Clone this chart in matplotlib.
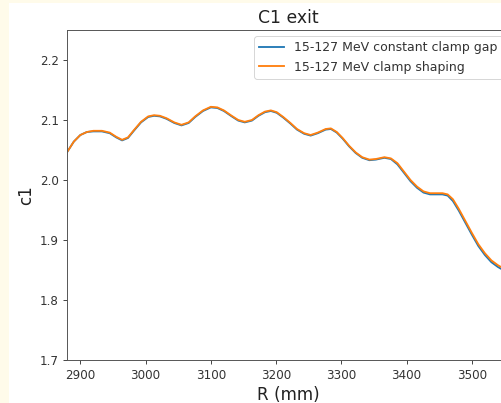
import matplotlib
matplotlib.use("Agg")
import matplotlib.pyplot as plt
from matplotlib.patches import Rectangle

# ---- data ----
r_mm = [2880, 2890, 2900, 2910, 2920, 2933, 2945, 2955, 2964, 2973,
        2982, 2993, 3004, 3013, 3022, 3032, 3044, 3055, 3066, 3076,
        3088, 3100, 3110, 3120, 3132, 3142, 3152, 3163, 3173, 3183,
        3192, 3201, 3211, 3222, 3232, 3243, 3253, 3264, 3276, 3284,
        3293, 3302, 3312, 3322, 3332, 3343, 3353, 3366, 3376, 3386,
        3396, 3406, 3416, 3426, 3436, 3446, 3455, 3463, 3471, 3480,
        3490, 3500, 3510, 3520, 3530, 3540, 3548, 3557]

c1_shaping = [2.047, 2.064, 2.075, 2.080, 2.082, 2.082, 2.079, 2.072, 2.067, 2.071,
              2.083, 2.097, 2.106, 2.108, 2.107, 2.103, 2.096, 2.092, 2.096, 2.106,
              2.116, 2.122, 2.121, 2.116, 2.107, 2.100, 2.097, 2.100, 2.108, 2.114,
              2.116, 2.113, 2.105, 2.095, 2.085, 2.078, 2.075, 2.079, 2.085, 2.086,
              2.080, 2.070, 2.057, 2.046, 2.038, 2.034, 2.035, 2.038, 2.036, 2.028,
              2.014, 2.000, 1.989, 1.981, 1.978, 1.978, 1.978, 1.976, 1.968, 1.952,
              1.932, 1.912, 1.893, 1.878, 1.866, 1.858, 1.853, 1.849]

c1_constant = [2.047, 2.064, 2.075, 2.080, 2.081, 2.081, 2.078, 2.071, 2.066, 2.070,
               2.082, 2.096, 2.105, 2.107, 2.106, 2.102, 2.095, 2.091, 2.095, 2.105,
               2.115, 2.121, 2.120, 2.115, 2.106, 2.099, 2.096, 2.099, 2.107, 2.113,
               2.115, 2.112, 2.104, 2.094, 2.084, 2.077, 2.074, 2.078, 2.084, 2.085,
               2.079, 2.069, 2.056, 2.045, 2.037, 2.033, 2.034, 2.037, 2.035, 2.026,
               2.012, 1.998, 1.987, 1.979, 1.976, 1.976, 1.976, 1.974, 1.965, 1.949,
               1.929, 1.909, 1.890, 1.875, 1.863, 1.855, 1.850, 1.846]

x_ticks = [2900, 3000, 3100, 3200, 3300, 3400, 3500]
y_ticks = [1.7, 1.8, 1.9, 2.0, 2.1, 2.2]
series_labels = ["15-127 MeV constant clamp gap", "15-127 MeV clamp shaping"]

W, H = 501, 403
fig = plt.figure(figsize=(W / 100, H / 100), dpi=100, facecolor="#fffbea")
# white figure area (screenshot with cream border at left/top)
bg = Rectangle((9 / W, 0), (W - 9) / W, (H - 3) / H,
               transform=fig.transFigure, facecolor="white",
               edgecolor="none", zorder=-10)
fig.add_artist(bg)

left, right, top, bottom = 67.3, 509.0, 30.0, 360.0
ax = fig.add_axes([left / W, (H - bottom) / H, (right - left) / W, (bottom - top) / H])
ax.set_zorder(1)

ax.plot(r_mm, c1_constant, color="#1f77b4", lw=1.32, label=series_labels[0])
ax.plot(r_mm, c1_shaping, color="#ff7f0e", lw=1.32, label=series_labels[1])

ax.set_xlim(2880, 3557)
ax.set_ylim(1.7, 2.25)
ax.set_xticks(x_ticks)
ax.set_yticks(y_ticks)
ax.set_yticklabels([f"{v:.1f}" for v in y_ticks])
ax.tick_params(labelsize=8.6, length=3.1, width=0.7, pad=3.1, colors="#444444",
               labelcolor="#333333")
for s in ax.spines.values():
    s.set_linewidth(0.7)
    s.set_color("#555555")

ax.set_xlabel("R (mm)", fontsize=12.1, labelpad=3.5, color="#222222")
ax.set_ylabel("c1", fontsize=12.1, labelpad=3.5, color="#222222")
ax.set_title("C1 exit", fontsize=12.4, pad=5.3, color="#222222")

leg = ax.legend(loc="upper right", prop={"size": 9.0}, borderaxespad=0.5)
leg.get_frame().set_linewidth(0.7)
for t in leg.get_texts():
    t.set_color("#333333")

fig.savefig("out.png", dpi=100, facecolor=fig.get_facecolor())
